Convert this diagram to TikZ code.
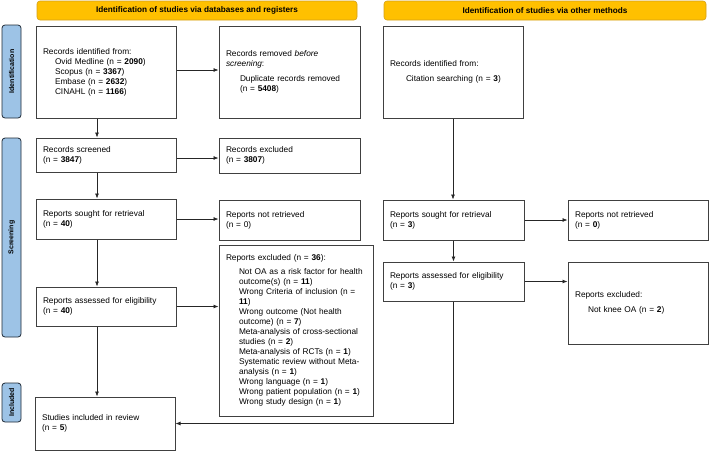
\documentclass[tikz,border=0pt]{standalone}
\usepackage{fontspec}
\setmainfont{Liberation Sans}
\usetikzlibrary{arrows.meta,calc}
\definecolor{hdr}{HTML}{FFC000}
\definecolor{hdrline}{HTML}{D4A017}
\definecolor{side}{HTML}{9DC3E6}
\definecolor{sideline}{HTML}{1F2A36}
\definecolor{boxline}{HTML}{404040}
\begin{document}
\begin{tikzpicture}[x=1pt,y=-1pt,
  every node/.style={font=\fontsize{8.3}{10}\selectfont},
  header/.style={draw=hdrline, fill=hdr, rounded corners=3pt, line width=0.6pt, inner sep=0pt, font=\fontsize{8.2}{10}\selectfont\bfseries},
  sidelab/.style={draw=sideline, fill=side, rounded corners=3pt, line width=0.8pt, rotate=90, inner sep=0pt, minimum height=19pt, font=\fontsize{7}{9}\selectfont\bfseries},
  box/.style={draw=boxline, line width=1pt, fill=white, inner sep=0pt, align=left},
  arr/.style={draw=black!85, line width=0.7pt, -{Latex[length=5pt,width=4pt]}}
]
\useasboundingbox (0,0) rectangle (709,451);
% headers
\node[header, minimum width=320pt, minimum height=19pt] (hL) at (197,10.5) {Identification of studies via databases and registers};
\node[header, minimum width=322pt, minimum height=19pt] (hR) at (545,10.5) {Identification of studies via other methods};
% side labels
\node[sidelab, minimum width=93pt] (sI) at (11.5,71.5) {Identification};
\node[sidelab, minimum width=199pt] (sS) at (11.5,237.5) {Screening};
\node[sidelab, minimum width=39pt] (sN) at (11.5,402.5) {Included};
% left column
\node[box, minimum width=140pt, minimum height=92pt, text width=126pt] (rid) at (106,72) {Records identified from:\\
\hspace*{12pt}Ovid Medline (n = \textbf{2090})\\
\hspace*{12pt}Scopus (n = \textbf{3367})\\
\hspace*{12pt}Embase (n = \textbf{2632})\\
\hspace*{12pt}CINAHL (n = \textbf{1166})};
\node[box, minimum width=141pt, minimum height=92pt, text width=127pt] (rrem) at (289.5,72) {Records removed \textit{before}\\
\textit{screening}:\\[5pt]
\hspace*{14pt}Duplicate records removed\\
\hspace*{14pt}(n = \textbf{5408})};
\node[box, minimum width=140pt, minimum height=34pt, text width=126pt] (rscr) at (106,155) {Records screened\\(n = \textbf{3847})};
\node[box, minimum width=141pt, minimum height=35pt, text width=127pt] (rexc) at (289.5,155.5) {Records excluded\\(n = \textbf{3807})};
\node[box, minimum width=140pt, minimum height=40pt, text width=126pt] (rsou) at (106,219) {Reports sought for retrieval\\(n = \textbf{40})};
\node[box, minimum width=141pt, minimum height=40pt, text width=127pt] (rnot) at (289.5,220) {Reports not retrieved\\(n = 0)};
\node[box, minimum width=140pt, minimum height=39pt, text width=126pt] (rass) at (106,306.5) {Reports assessed for eligibility\\(n = \textbf{40})};
\node[box, minimum width=154pt, minimum height=171pt, text width=140pt] (rexcl) at (296,330.5) {Reports excluded (n = \textbf{36}):\\[3.6pt]
\hspace*{13pt}Not OA as a risk factor for health\\
\hspace*{13pt}outcome(s) (n = \textbf{11})\\
\hspace*{13pt}Wrong Criteria of inclusion (n =\\
\hspace*{13pt}\textbf{11})\\
\hspace*{13pt}Wrong outcome (Not health\\
\hspace*{13pt}outcome) (n = \textbf{7})\\
\hspace*{13pt}Meta-analysis of cross-sectional\\
\hspace*{13pt}studies (n = \textbf{2})\\
\hspace*{13pt}Meta-analysis of RCTs (n = \textbf{1})\\
\hspace*{13pt}Systematic review without Meta-\\
\hspace*{13pt}analysis (n = \textbf{1})\\
\hspace*{13pt}Wrong language (n = \textbf{1})\\
\hspace*{13pt}Wrong patient population (n = \textbf{1})\\
\hspace*{13pt}Wrong study design (n = \textbf{1})};
\node[box, minimum width=140pt, minimum height=53pt, text width=126pt] (inc) at (105,423.5) {Studies included in review\\(n = \textbf{5})};
% right column
\node[box, minimum width=140pt, minimum height=92pt, text width=126pt] (ridR) at (453,72) {Records identified from:\\[5pt]
\hspace*{16pt}Citation searching (n = \textbf{3})};
\node[box, minimum width=141pt, minimum height=40pt, text width=127pt] (rsouR) at (453.5,220) {Reports sought for retrieval\\(n = \textbf{3})};
\node[box, minimum width=140pt, minimum height=40pt, text width=126pt] (rnotR) at (638,220) {Reports not retrieved\\(n = \textbf{0})};
\node[box, minimum width=141pt, minimum height=39pt, text width=127pt] (rassR) at (453.5,281.5) {Reports assessed for eligibility\\(n = \textbf{3})};
\node[box, minimum width=140pt, minimum height=82pt, text width=126pt] (rexR) at (638,303) {Reports excluded:\\[5pt]
\hspace*{13pt}Not knee OA (n = \textbf{2})};
% connectors
\coordinate (cx) at (97,0);
\draw[arr] (rid.south -| cx) -- (rscr.north -| cx);
\draw[arr] (rscr.south -| cx) -- (rsou.north -| cx);
\draw[arr] (rsou.south -| cx) -- (rass.north -| cx);
\draw[arr] (rass.south -| cx) -- (inc.north -| cx);
\draw[arr] (rid.east |- 0,70) -- (rrem.west |- 0,70);
\draw[arr] (rscr.east |- 0,158) -- (rexc.west |- 0,158);
\draw[arr] (rsou.east) -- (rsou.east -| rnot.west);
\draw[arr] (rass.east) -- (rass.east -| rexcl.west);
\draw[arr] (ridR.south) -- (ridR.south |- rsouR.north);
\draw[arr] (rsouR.east) -- (rsouR.east -| rnotR.west);
\draw[arr] (rsouR.south) -- (rassR.north);
\draw[arr] (rassR.east) -- (rassR.east -| rexR.west);
\draw[arr] (rassR.south) |- (inc.east);
\end{tikzpicture}
\end{document}
